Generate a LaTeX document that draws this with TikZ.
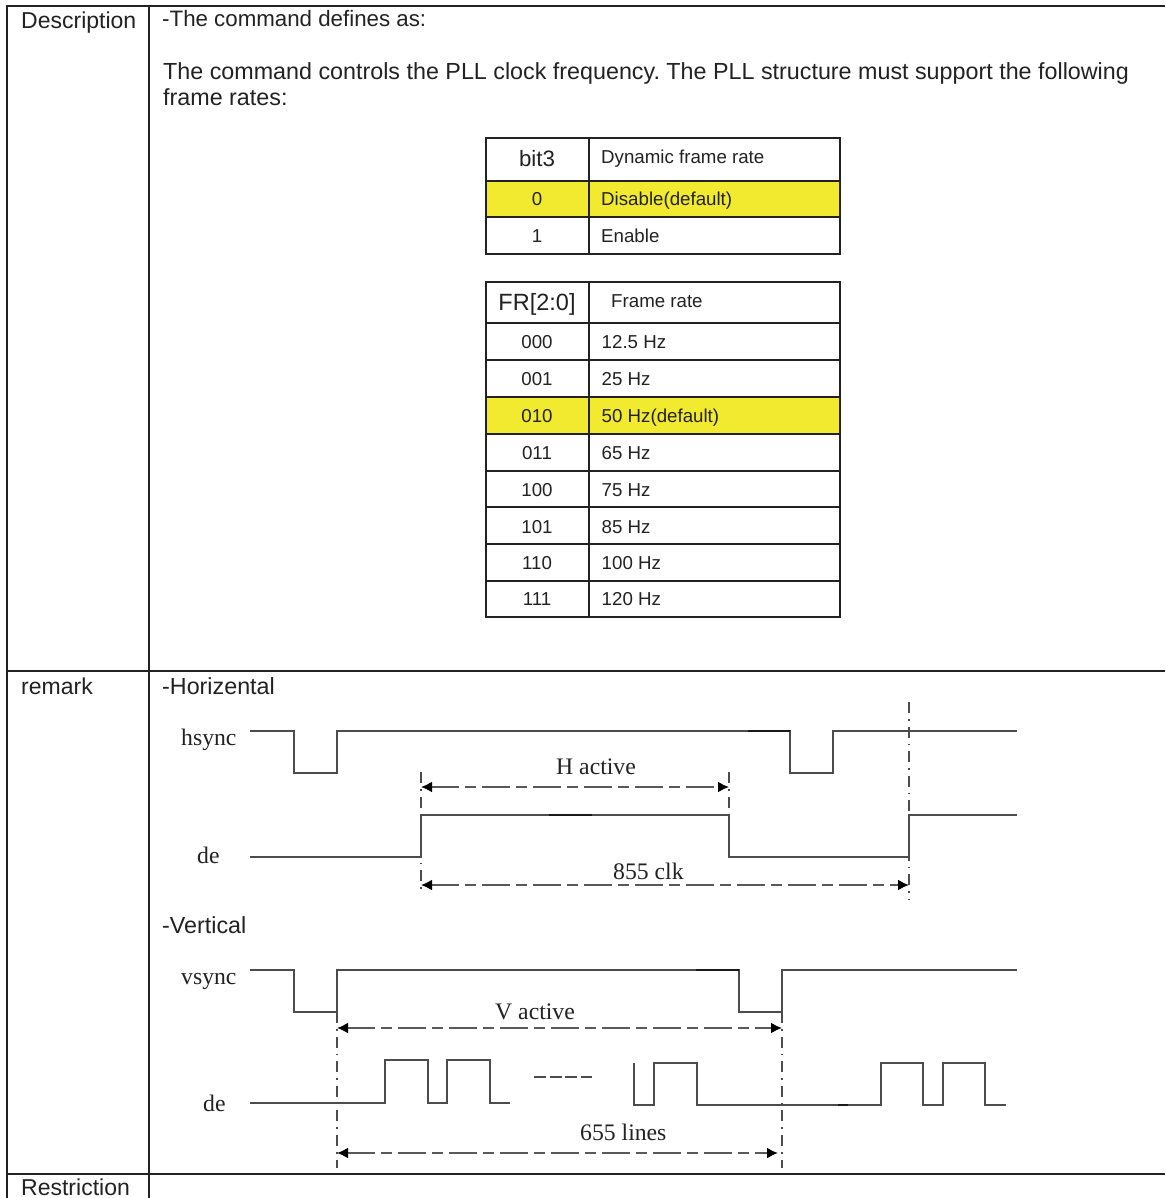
\documentclass[tikz,border=0pt]{standalone}
\usepackage{fontspec}
\setmainfont{Liberation Sans}
\newfontfamily\serifface{Liberation Serif}
\usetikzlibrary{arrows.meta}
\definecolor{rowyellow}{HTML}{F2EA2E}
\definecolor{ink}{HTML}{222222}
\frenchspacing
\tikzset{
  grid line/.style={draw=ink,line width=1.8pt},
  main text/.style={anchor=base west,inner sep=0pt,text=ink,font=\fontsize{23}{23}\selectfont},
  body text/.style={main text,font=\fontsize{23.3}{24}\selectfont},
  row text/.style={anchor=base west,inner sep=0pt,text=ink,font=\fontsize{18.7}{19}\selectfont},
  row key/.style={anchor=base,inner sep=0pt,text=ink,font=\fontsize{18.7}{19}\selectfont},
  head key/.style={anchor=base,inner sep=0pt,text=ink,font=\fontsize{22.3}{23}\selectfont},
  wave text/.style={anchor=base west,inner sep=0pt,text=ink,font=\serifface\fontsize{23.7}{24}\selectfont},
  wave/.style={draw=black!70,line width=1.9pt,line join=miter},
  wave dark/.style={draw=black!90,line width=2.2pt},
  span/.style={draw=black!65,line width=1.9pt,dash pattern=on 28pt off 6pt on 11pt off 6pt,
    {Latex[length=11pt,width=11pt,black]}-{Latex[length=11pt,width=11pt,black]}},
  guide/.style={draw=black!70,line width=1.4pt,dash pattern=on 11pt off 6pt on 1.6pt off 6pt},
}
\begin{document}
\begin{tikzpicture}[x=1pt,y=-1pt]
\useasboundingbox (0,0) rectangle (1165,1198);
\fill[white] (0,0) rectangle (1165,1198);
% outer table
\draw[grid line] (7,1198) -- (7,6) -- (1165,6);
\draw[grid line] (149,6) -- (149,1198);
\draw[grid line] (7,671) -- (1165,671);
\draw[grid line] (7,1174) -- (1165,1174);
\node[main text] (desc) at (21,29) {Description};
\node[main text] (rem) at (21,694) {remark};
\node[main text] (restr) at (21,1195) {Restriction};
\node[main text,font=\fontsize{22.3}{23}\selectfont] (l1) at (162,27) {-The command defines as:};
\node[body text] (l2) at (163,80) {The command controls the PLL clock frequency. The PLL structure must support the following};
\node[body text] (l3) at (163,106) {frame rates:};
\node[body text] (lh) at (162,694) {-Horizental};
\node[body text] (lv) at (162,933) {-Vertical};
% bit3 table
\fill[rowyellow] (486,181) rectangle (840,217);
\draw[grid line] (486,138) rectangle (840,254);
\draw[grid line] (589,138) -- (589,254);
\draw[grid line] (486,181) -- (840,181);
\draw[grid line] (486,217) -- (840,217);
\node[head key] (b0) at (537,167) {bit3};
\node[row text] (b1) at (601,164) {Dynamic frame rate};
\node[row key] (b2) at (537,206) {0};
\node[row text] (b3) at (601,206) {Disable(default)};
\node[row key] (b4) at (537,243) {1};
\node[row text] (b5) at (601,243) {Enable};
% FR table
\fill[rowyellow] (486,397) rectangle (840,434);
\draw[grid line] (486,282) rectangle (840,617);
\draw[grid line] (589,282) -- (589,617);
\foreach \yy in {323,360,397,434,471,507,544,581}
  \draw[grid line] (486,\yy) -- (840,\yy);
\node[head key,font=\fontsize{23.5}{24}\selectfont] (f0) at (537,310) {FR[2:0]};
\node[row text] (f1) at (611,307) {Frame rate};
\foreach \yy/\kk/\vv in {348/000/12.5 Hz,385/001/25 Hz,422/010/50 Hz(default),459/011/65 Hz,496/100/75 Hz,533/101/85 Hz,569/110/100 Hz,605/111/120 Hz}{
  \node[row key] (k\kk) at (537,\yy) {\kk};
  \node[row text] (v\kk) at (601.5,\yy) {\vv};
}
% horizontal timing
\node[wave text] (hs) at (181,745) {hsync};
\node[wave text] (hde) at (197,863) {de};
\draw[wave] (250,731) -| (294,773) -| (337,731) -| (790,773) -| (833,731) -- (1017,731);
\draw[wave] (250,857) -| (421,815) -| (729,857) -| (909,815) -- (1017,815);
\draw[wave dark] (748,731) -- (790,731);
\draw[wave dark] (549,815) -- (592,815);
\coordinate (ha) at (421,787); \coordinate (hb) at (729,787);
\coordinate (ca) at (421,885); \coordinate (cb) at (909,885);
\draw[guide] (421,772) -- (421,893);
\draw[guide] (729,772) -- (729,857);
\draw[guide] (909,702) -- (909,900);
\draw[span] (ha) -- (hb);
\draw[span] (ca) -- (cb);
\node[wave text] (hact) at (556,774) {H active};
\node[wave text] (clk) at (613,879) {855 clk};
% vertical timing
\node[wave text] (vs) at (181,984) {vsync};
\node[wave text] (vde) at (203,1111) {de};
\draw[wave] (250,970) -| (294,1012) -| (337,970) -| (739,1012) -| (782,970) -- (1017,970);
\draw[wave] (250,1103) -| (385,1060) -| (428,1103) -| (447,1060) -| (490,1103) -- (510,1103);
\draw[wave] (534,1077) -- (592,1077) [dash pattern=on 12pt off 3.5pt];
\draw[wave] (634,1063) |- (654,1105) |- (697,1063) |- (881,1105) |- (923,1063) |- (943,1105) |- (985,1063) |- (1006,1105);
\draw[wave dark] (696,970) -- (739,970);
\draw[wave dark] (838,1105) -- (848,1105);
\draw[guide] (337,1012) -- (337,1168);
\draw[guide] (782,1012) -- (782,1168);
\coordinate (va) at (337,1028); \coordinate (vb) at (782,1028);
\coordinate (la) at (337,1153); \coordinate (lb) at (778,1153);
\draw[span] (va) -- (vb);
\draw[span] (la) -- (lb);
\node[wave text] (vact) at (495,1019) {V active};
\node[wave text] (lin) at (580,1140) {655 lines};
\end{tikzpicture}
\end{document}
